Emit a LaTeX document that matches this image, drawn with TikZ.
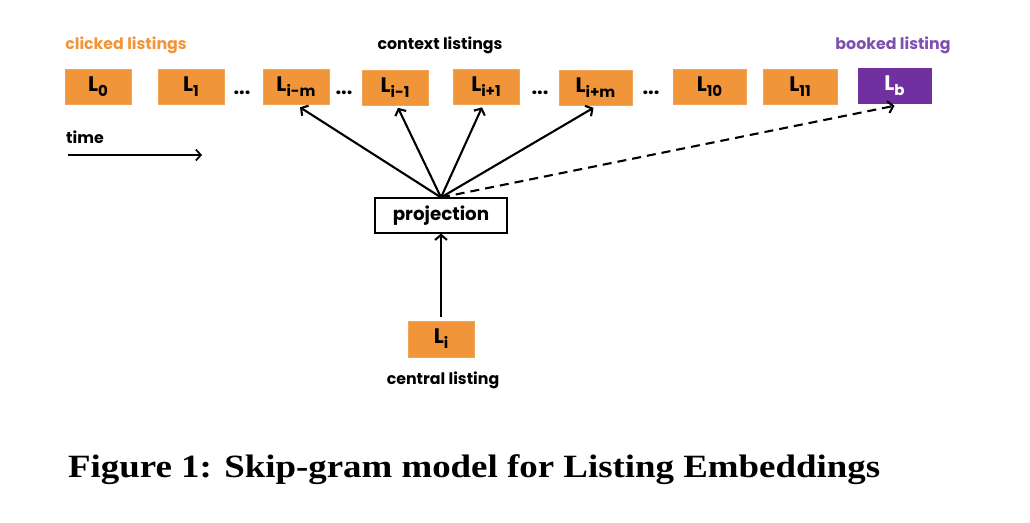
\documentclass[tikz,border=0pt]{standalone}
\usepackage{fontspec}
\setmainfont{Poppins}
\newfontfamily\capfont{Liberation Serif}
\usetikzlibrary{arrows.meta}
\definecolor{lorange}{HTML}{F0953A}
\definecolor{lpurple}{HTML}{7030A0}
\definecolor{tpurple}{HTML}{7F4FAF}
\newcommand{\Lsub}[1]{{\fontsize{21}{21}\selectfont L}\raisebox{-5pt}{\fontsize{15}{15}\selectfont #1}}
\begin{document}
\begin{tikzpicture}[x=1pt,y=-1pt,
  lbox/.style={fill=lorange,draw=lorange!85!white,line width=0.6pt,minimum height=35pt,inner sep=0pt,font=\bfseries},
  lab/.style={font=\fontsize{15.8}{15.8}\selectfont\bfseries,inner sep=0pt},
  dots/.style={font=\fontsize{20}{20}\selectfont\bfseries,inner sep=0pt},
  arr/.style={-{Straight Barb[length=5pt,width=12pt,line width=2.1pt]},line width=2.1pt},
  ]
\useasboundingbox (0,0) rectangle (1030,522);
% top row
\node[lbox,minimum width=66pt] (L0) at (98,86.5) {\Lsub{0}};
\node[lbox,minimum width=66pt] (L1) at (191,86.5) {\Lsub{1}};
\node[dots] (d1) at (242,93) {...};
\node[lbox,minimum width=66pt] (Lim) at (296,86.5) {\Lsub{i-m}};
\node[dots] (d2) at (344,93) {...};
\node[lbox,minimum width=66pt] (Lim1) at (395,88) {\Lsub{i-1}};
\node[lbox,minimum width=66pt] (Lip1) at (486,86.5) {\Lsub{i+1}};
\node[dots] (d3) at (540,93) {...};
\node[lbox,minimum width=73pt] (Lipm) at (595.5,88) {\Lsub{i+m}};
\node[dots] (d4) at (651,93) {...};
\node[lbox,minimum width=73pt] (L10) at (709.5,86.5) {\Lsub{10}};
\node[lbox,minimum width=74pt] (L11) at (800,86.5) {\Lsub{11}};
\node[lbox,minimum width=73pt,fill=lpurple,draw=lpurple,text=white] (Lb) at (894.5,86) {\Lsub{b}};
% labels
\node[lab,text=lorange] (clk) at (126,45) {clicked listings};
\node[lab] (ctx) at (440,45) {context listings};
\node[lab,text=tpurple] (bkd) at (893,45) {booked listing};
\node[lab] (time) at (85,137) {time};
\coordinate (t0) at (68,155);
\coordinate (t1) at (202,155);
\draw[-{Straight Barb[length=5pt,width=11pt,line width=1.7pt]},line width=1.7pt] (t0) -- (t1);
% projection
\node[draw,line width=1.1pt,minimum width=132pt,minimum height=35pt,inner sep=0pt,font=\fontsize{18.3}{18.3}\selectfont\bfseries] (proj) at (441,215.5) {projection};
\node[lbox,minimum width=66pt,minimum height=36pt] (Li) at (441,339) {\Lsub{i}};
\node[lab] (cen) at (443,380) {central listing};
% arrows
\draw[arr] (proj.north) -- ([xshift=4pt,yshift=-3pt]Lim.south);
\draw[arr] (proj.north) -- ([xshift=3pt,yshift=-2pt]Lim1.south);
\draw[arr] (proj.north) -- ([xshift=-4pt,yshift=-3pt]Lip1.south);
\draw[arr] (proj.north) -- ([xshift=-2pt,yshift=-2pt]Lipm.south);
\draw[arr,dash pattern=on 9pt off 6pt] (proj.north) -- ([xshift=0pt,yshift=-2pt]Lb.south);
\draw[arr] ([yshift=4pt]Li.north) -- (proj.south);
% caption
\node[anchor=base west,inner sep=0pt,font=\capfont\fontsize{32.5}{32.5}\selectfont\bfseries] (cap) at (68,477) {\scalebox{1.135}[1]{Figure 1: Skip-gram model for Listing Embeddings}};
\end{tikzpicture}
\end{document}
